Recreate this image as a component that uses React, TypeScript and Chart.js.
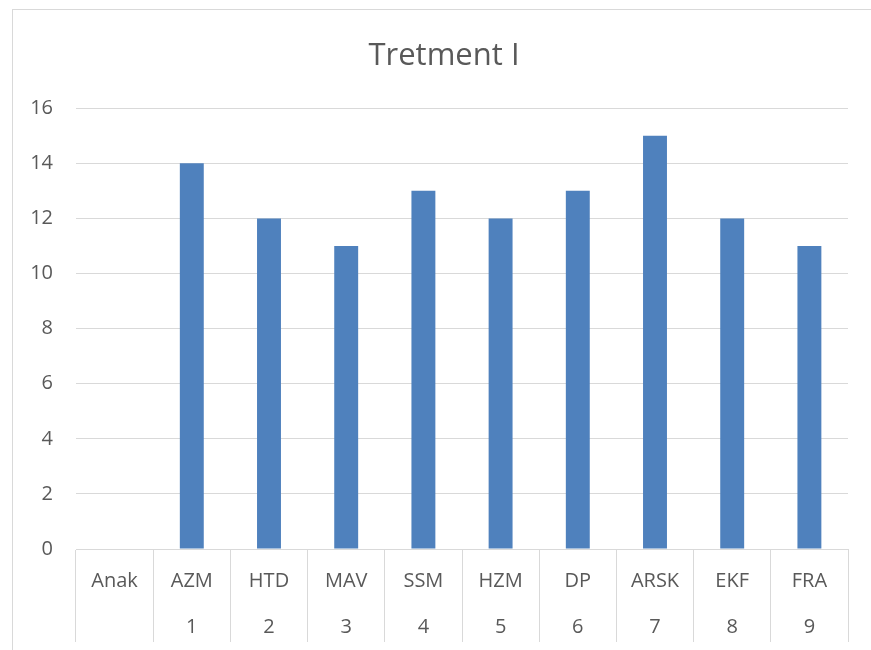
import React, { useEffect, useRef } from "react";
import { Chart, registerables } from "chart.js";

Chart.register(...registerables);

const chartTitle = "Tretment I";
const names = ["Anak", "AZM", "HTD", "MAV", "SSM", "HZM", "DP", "ARSK", "EKF", "FRA"];
const numbers = ["", "1", "2", "3", "4", "5", "6", "7", "8", "9"];
const values: (number | null)[] = [null, 14, 12, 11, 13, 12, 13, 15, 12, 11];
const yMin = 0;
const yMax = 16;
const yStep = 2;

const FONT = "'Open Sans', 'Liberation Sans', sans-serif";
const TEXT = "#595959";
const GRID = "#d9d9d9";

// Centres the title over the whole chart frame rather than the padded box.
const titleCentre = {
  id: "titleCentre",
  afterLayout(chart: any) {
    const t = chart.titleBlock;
    if (t) {
      t.left = 27;
      t.right = chart.width - 23;
    }
  },
};

export default function App() {
  const ref = useRef<HTMLCanvasElement | null>(null);

  useEffect(() => {
    if (!ref.current) return;
    const labels = names.map((n, i) => (numbers[i] ? [n, numbers[i]] : [n]));
    const chart = new Chart(ref.current, {
      type: "bar",
      data: {
        labels,
        datasets: [
          {
            data: values,
            backgroundColor: "#4F81BD",
            borderWidth: 0,
            categoryPercentage: 1,
            barPercentage: 0.31,
          },
        ],
      },
      plugins: [titleCentre],
      options: {
        animation: false,
        responsive: false,
        maintainAspectRatio: false,
        layout: { padding: { left: 0, right: 23, top: 0, bottom: 0 } },
        plugins: {
          legend: { display: false },
          tooltip: { enabled: false },
          title: {
            display: true,
            text: chartTitle,
            color: TEXT,
            font: { family: FONT, size: 31, weight: "normal", lineHeight: 1.2 },
            padding: { top: 28, bottom: 33 },
          },
        },
        scales: {
          x: {
            offset: true,
            grid: {
              display: true,
              offset: true,
              drawOnChartArea: false,
              drawTicks: true,
              tickLength: 93,
              color: GRID,
              lineWidth: 1,
            },
            border: { display: true, color: GRID, width: 1 },
            ticks: {
              color: TEXT,
              font: { family: FONT, size: 20, lineHeight: "46px" },
              padding: -84,
              maxRotation: 0,
              autoSkip: false,
            },
            afterFit: (scale: any) => {
              scale.height = 101;
            },
          },
          y: {
            min: yMin,
            max: yMax,
            grid: { color: GRID, lineWidth: 1, drawTicks: false },
            border: { display: false },
            ticks: {
              stepSize: yStep,
              color: TEXT,
              font: { family: FONT, size: 20 },
              padding: 23,
            },
            afterFit: (scale: any) => {
              scale.width = 63;
            },
          },
        },
      },
    } as any);
    return () => chart.destroy();
  }, []);

  return (
    <div
      style={{
        position: "absolute",
        left: 12,
        top: 9,
        width: 859,
        height: 641,
        borderLeft: `1px solid ${GRID}`,
        borderTop: `1px solid ${GRID}`,
        background: "#fff",
      }}
    >
      <canvas ref={ref} width={858} height={640} style={{ display: "block" }} />
    </div>
  );
}
